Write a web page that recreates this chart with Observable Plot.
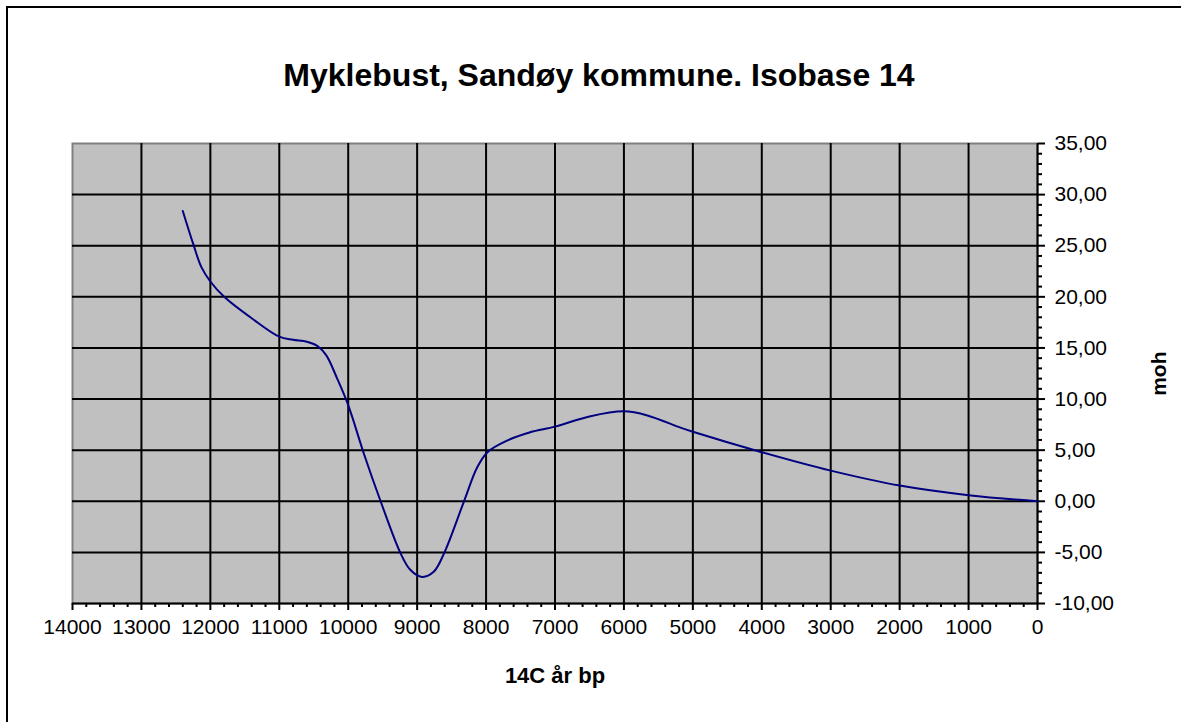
<!DOCTYPE html>
<html>
<head>
<meta charset="utf-8">
<script src="https://cdn.jsdelivr.net/npm/d3@7"></script>
<script src="https://cdn.jsdelivr.net/npm/@observablehq/plot@0.6"></script>
<style>
  html, body { margin: 0; padding: 0; background: white; overflow: hidden; }
  #chart { position: absolute; left: 0; top: 0; width: 1181px; height: 722px; }
</style>
</head>
<body>
<div id="chart"></div>
<script>
const title = "Myklebust, Sandøy kommune. Isobase 14";
const xTitle = "14C år bp";
const yTitle = "moh";

// 14C years BP and elevation (m o.h.)
const years = [12400, 12250, 12130, 12000, 11800, 11400, 11000, 10800, 10600, 10450, 10320, 10160, 10000, 9770, 9530, 9240, 9100, 8930, 8760, 8610, 8320, 8130, 7980, 7690, 7360, 7000, 6500, 6000, 5660, 5180, 5000, 4000, 3000, 2000, 1000, 0];
const moh = [28.4, 25.2, 22.9, 21.5, 20.0, 17.9, 16.1, 15.8, 15.6, 15.2, 14.3, 12.0, 9.4, 4.6, 0.0, -5.1, -6.7, -7.4, -6.9, -5.1, 0.0, 3.3, 4.8, 5.95, 6.75, 7.3, 8.3, 8.8, 8.4, 7.2, 6.8, 4.8, 3.0, 1.54, 0.6, 0.0];

const xTicks = [14000, 13000, 12000, 11000, 10000, 9000, 8000, 7000, 6000, 5000, 4000, 3000, 2000, 1000, 0];
const yTicks = [-10, -5, 0, 5, 10, 15, 20, 25, 30, 35];

const xMinor = d3.range(0, 14001, 200).filter(d => d % 1000 !== 0);
const yMinor = d3.range(-10, 36, 1).filter(d => d % 5 !== 0);

const data = years.map((t, i) => ({t, v: moh[i]}));
const fmtY = d => d.toFixed(2).replace(".", ",");

const chart = Plot.plot({
  width: 1181,
  height: 722,
  marginLeft: 72,
  marginRight: 144,
  marginTop: 143,
  marginBottom: 119,
  style: {fontFamily: "'Liberation Sans', Arial, sans-serif", fontSize: "21px", color: "black", background: "white"},
  x: {domain: [14000, 0], label: null},
  y: {domain: [-10, 35], label: null},
  marks: [
    Plot.frame({fill: "#c0c0c0", stroke: "#808080", strokeWidth: 2}),
    Plot.gridX(xTicks.filter(d => d > 0 && d < 14000), {stroke: "black", strokeOpacity: 1, strokeWidth: 2}),
    Plot.gridY(yTicks.filter(d => d > -10 && d < 35), {stroke: "black", strokeOpacity: 1, strokeWidth: 2}),
    Plot.ruleY([-10], {stroke: "black", strokeWidth: 2}),
    Plot.ruleX([0], {stroke: "black", strokeWidth: 2}),
    Plot.axisX(xTicks, {tickSize: 7, tickPadding: 9, strokeWidth: 2, tickFormat: d => String(d), fontSize: 21}),
    Plot.axisX(xMinor, {tickSize: 4, strokeWidth: 2, tickFormat: () => ""}),
    Plot.axisY(yTicks, {anchor: "right", tickSize: 7, tickPadding: 10, strokeWidth: 2, tickFormat: fmtY, fontSize: 21}),
    Plot.axisY(yMinor, {anchor: "right", tickSize: 4, strokeWidth: 2, tickFormat: () => ""}),
    Plot.line(data, {x: "t", y: "v", stroke: "#000080", strokeWidth: 2, curve: "catmull-rom"}),
    Plot.text([title], {frameAnchor: "top", dx: 44, dy: -58, lineAnchor: "bottom", fontSize: 32, fontWeight: "bold"}),
    Plot.text([xTitle], {frameAnchor: "bottom", dy: 79, lineAnchor: "bottom", fontSize: 22, fontWeight: "bold"}),
    Plot.text([yTitle], {frameAnchor: "right", dx: 122, dy: -22, rotate: -90, fontSize: 21, fontWeight: "bold"})
  ]
});
// outer chart-area border (left and top edges only visible in the original)
d3.select(chart).append("path")
  .attr("d", "M7,722V7H1181")
  .attr("fill", "none")
  .attr("stroke", "black")
  .attr("stroke-width", 2);
document.getElementById("chart").appendChild(chart);
</script>
</body>
</html>
